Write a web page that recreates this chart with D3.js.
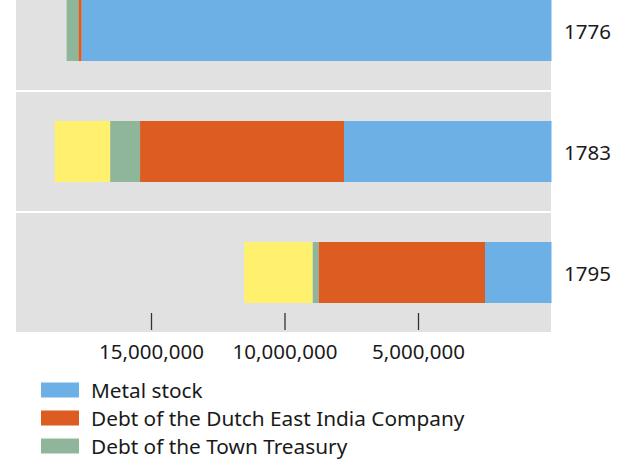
<!DOCTYPE html>
<html>
<head>
<meta charset="utf-8">
<script src="https://cdn.jsdelivr.net/npm/d3@7"></script>
<style>
  body { margin: 0; background: #fff; }
  svg { display: block; font-family: "Noto Sans", sans-serif; }
</style>
</head>
<body>
<svg width="632" height="461"></svg>
<script>
// valores (florins)
const years = ["1776", "1783", "1795"];
const seriesNames = ["Metal stock", "Debt of the Dutch East India Company", "Debt of the Town Treasury", "Other"];
const seriesKeys = ["metal", "voc", "town", "other"];
const metalStock = [17600000, 7770000, 2490000];
const vocDebt = [120000, 7640000, 6240000];
const townDebt = [440000, 1120000, 220000];
const otherDebt = [0, 2080000, 2560000];
const tickValues = [15000000, 10000000, 5000000];
const colors = ["#6cb0e6", "#dc5c22", "#8fb59a", "#fff06e"];

const svg = d3.select("svg");

const rows = years.map((y, i) => ({
    year: y,
    metal: metalStock[i],
    voc: vocDebt[i],
    town: townDebt[i],
    other: otherDebt[i]
}));

const x = d3.scaleLinear().domain([0, 20000000]).range([551.5, 17.5]);
const y = d3.scaleBand().domain(years).range([-30, 333]);
const barH = 61;

// fundo cinza de cada painel
svg.selectAll(".panel")
    .data(years)
    .enter()
    .append("rect")
    .attr("class", "panel")
    .attr("x", 16)
    .attr("width", 535)
    .attr("y", d => y(d) + (d === years[0] ? 0 : 1))
    .attr("height", d => y.bandwidth() - (d === years[0] ? 1 : 2))
    .attr("fill", "#e1e1e1");

const stack = d3.stack().keys(seriesKeys)(rows);

svg.selectAll(".serie")
    .data(stack)
    .enter()
    .append("g")
    .attr("class", "serie")
    .attr("fill", (d, i) => colors[i])
    .selectAll("rect")
    .data(d => d)
    .enter()
    .append("rect")
    .attr("x", d => x(d[1]))
    .attr("width", d => x(d[0]) - x(d[1]))
    .attr("y", d => y(d.data.year) + (y.bandwidth() - barH) / 2)
    .attr("height", barH);

// rótulos dos anos
svg.selectAll(".year")
    .data(years)
    .enter()
    .append("text")
    .attr("class", "year")
    .attr("x", 564)
    .attr("y", d => y(d) + y.bandwidth() / 2)
    .attr("dominant-baseline", "central")
    .attr("font-size", 20.5)
    .attr("fill", "#1a1a1a")
    .text(d => d);

// eixo
const axis = svg.append("g")
    .attr("transform", "translate(0,313)")
    .call(d3.axisBottom(x)
        .tickValues(tickValues)
        .tickSize(17)
        .tickPadding(14)
        .tickFormat(d3.format(",")));
axis.select(".domain").remove();
axis.selectAll("line").attr("stroke", "#333").attr("stroke-width", 1.3);
axis.selectAll("text")
    .attr("font-size", 20.5)
    .attr("font-family", "Noto Sans, sans-serif")
    .attr("fill", "#1a1a1a");

// legenda
const legend = svg.selectAll(".legend")
    .data(seriesNames.slice(0, 3))
    .enter()
    .append("g")
    .attr("class", "legend")
    .attr("transform", (d, i) => `translate(41,${390 + i * 28})`);

legend.append("rect")
    .attr("y", -7.5)
    .attr("width", 38)
    .attr("height", 15)
    .attr("fill", (d, i) => colors[i]);

legend.append("text")
    .attr("x", 50)
    .attr("dominant-baseline", "central")
    .attr("font-size", 20.8)
    .attr("fill", "#1a1a1a")
    .text(d => d);
</script>
</body>
</html>
